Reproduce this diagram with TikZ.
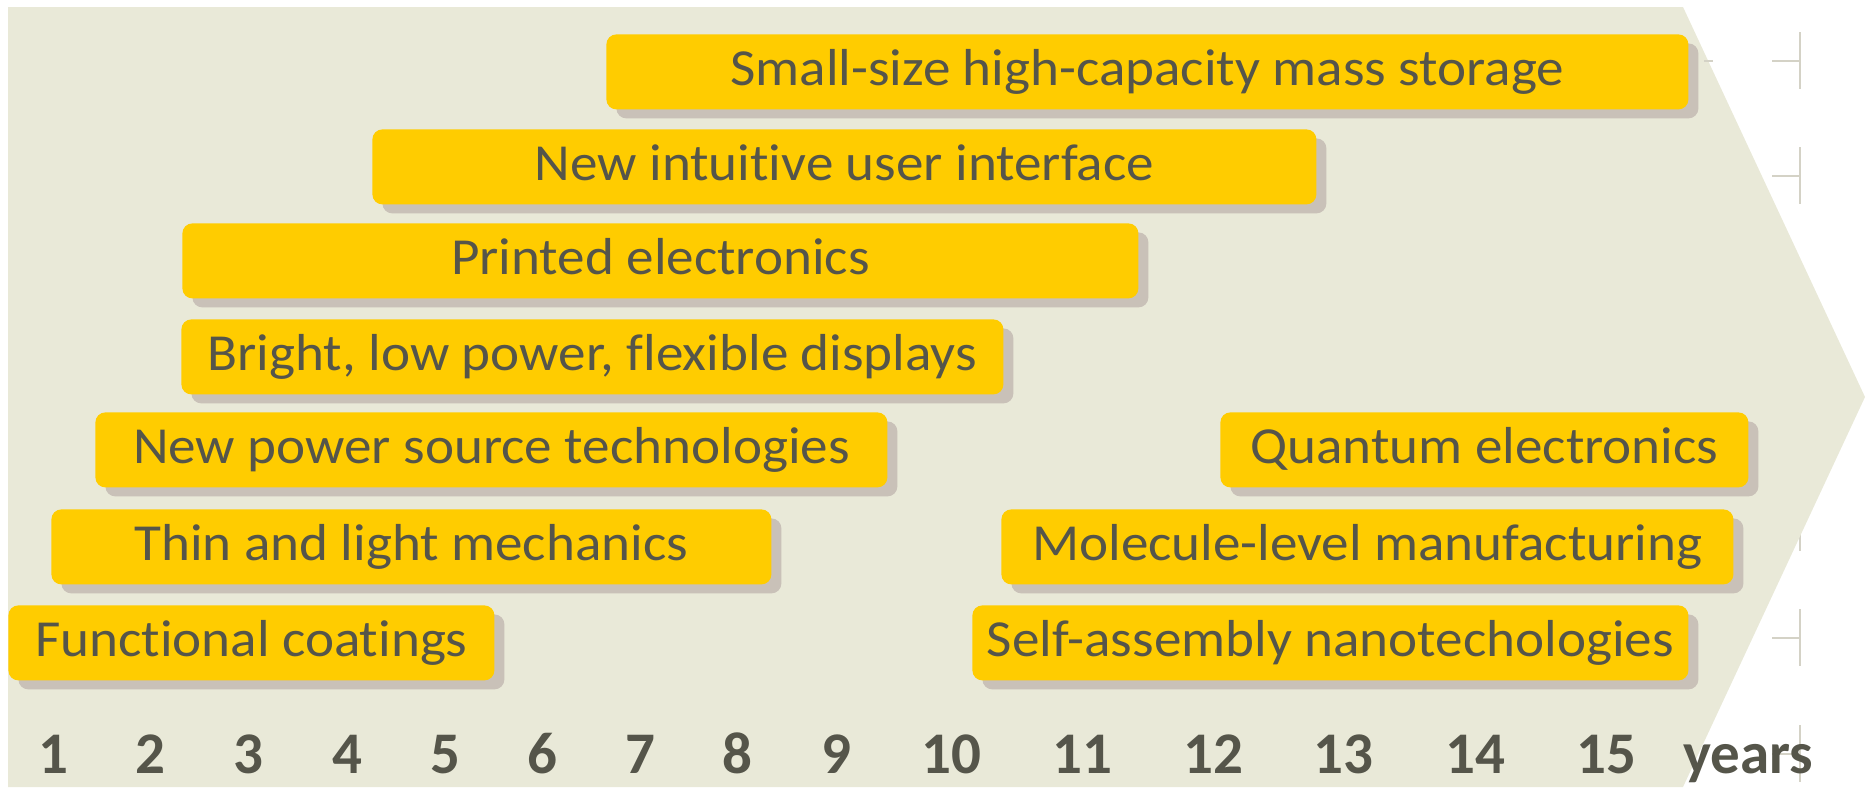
\documentclass[tikz,border=0pt]{standalone}
\usepackage{fontspec}
\setmainfont{Carlito}
\newfontfamily\barfont[FakeStretch=1.06, Ligatures=NoCommon]{Carlito}
\usetikzlibrary{shadows}
\definecolor{bgc}{RGB}{233,233,216}
\definecolor{barc}{RGB}{255,204,0}
\definecolor{shc}{RGB}{201,193,184}
\definecolor{txc}{RGB}{85,85,74}
\definecolor{tickc}{RGB}{212,210,198}
\tikzset{
  bar/.style={fill=barc, rounded corners=5pt, anchor=north west, minimum height=37.5pt,
    inner sep=0pt, text=txc, font=\barfont\fontsize{26pt}{28pt}\selectfont,
    text height=16.7pt, text depth=3pt,
    drop shadow={shadow xshift=5pt, shadow yshift=-4.5pt, fill=shc, opacity=1}},
  num/.style={anchor=base, text=txc, inner sep=0pt, font=\fontsize{29.5pt}{32pt}\selectfont\bfseries},
  tick/.style={draw=tickc, line width=1.2pt}
}
\begin{document}
\begin{tikzpicture}[x=0.5pt, y=-0.5pt]
\useasboundingbox (0,0) rectangle (1868,788);
% ticks (behind the arrow)
\foreach \yy in {61,176,292,407,523,638,754}{
  \draw[tick] (1772,\yy) -- (1800,\yy);
  \draw[tick] (1800,\yy-29) -- (1800,\yy+28);
}
% background arrow
\fill[bgc] (8,7) -- (1683,7) -- (1865,397) -- (1683,787) -- (8,787) -- cycle;
\draw[tick] (1704,61) -- (1713,61);
% bars
\node[bar, minimum width=541pt] (b1) at (606,34) {Small-size high-capacity mass storage};
\node[bar, minimum width=472pt] (b2) at (372,129) {New intuitive user interface};
\node[bar, minimum width=478pt] (b3) at (182,223) {Printed electronics};
\node[bar, minimum width=411pt] (b4) at (181,319) {Bright, low power, flexible displays};
\node[bar, minimum width=396pt] (b5) at (95,412) {New power source technologies};
\node[bar, minimum width=264pt] (b5r) at (1220,412) {Quantum electronics};
\node[bar, minimum width=360pt] (b6) at (51,509) {Thin and light mechanics};
\node[bar, minimum width=366pt] (b6r) at (1001,509) {Molecule-level manufacturing};
\node[bar, minimum width=243pt] (b7) at (8,605) {Functional coatings};
\node[bar, minimum width=358pt] (b7r) at (972,605) {Self-assembly nanotechologies};
% year numbers
\node[num] (y1) at (53,773) {1};
\node[num] (y2) at (150,773) {2};
\node[num] (y3) at (248,773) {3};
\node[num] (y4) at (347,773) {4};
\node[num] (y5) at (445,773) {5};
\node[num] (y6) at (542,773) {6};
\node[num] (y7) at (640,773) {7};
\node[num] (y8) at (737,773) {8};
\node[num] (y9) at (836,773) {9};
\node[num] (y10) at (951,773) {10};
\node[num] (y11) at (1082,773) {11};
\node[num] (y12) at (1213,773) {12};
\node[num] (y13) at (1343,773) {13};
\node[num] (y14) at (1475,773) {14};
\node[num] (y15) at (1606,773) {15};
\node[num] (yrs) at (1748,773) {years};
\end{tikzpicture}
\end{document}
